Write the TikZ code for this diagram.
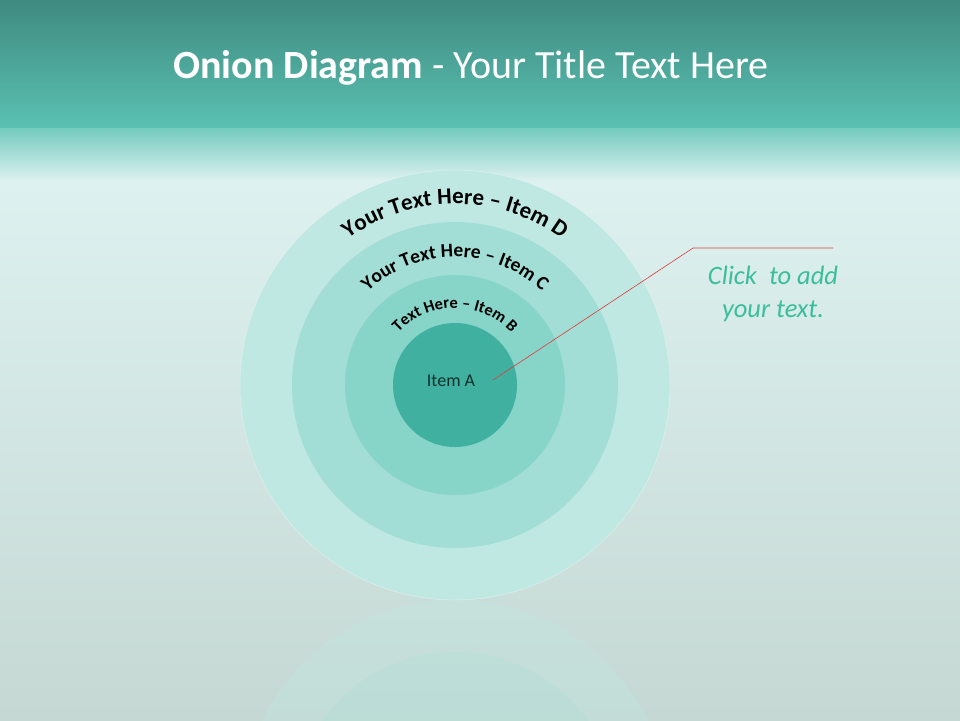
\documentclass[tikz,border=0pt]{standalone}
\usepackage{fontspec}
\setmainfont{Carlito}
\usepackage{tikz}
\usetikzlibrary{decorations.text}
\definecolor{bartop}{HTML}{3F8A80}
\definecolor{barbot}{HTML}{5AC1B2}
\definecolor{bgtop}{HTML}{DDF1F0}
\definecolor{bgbot}{HTML}{C5D8D3}
\definecolor{ringD}{HTML}{BFE8E3}
\definecolor{ringC}{HTML}{A2DED5}
\definecolor{ringB}{HTML}{87D4C9}
\definecolor{ringA}{HTML}{40B1A1}
\definecolor{notegreen}{HTML}{3BBE9C}
\definecolor{leadred}{HTML}{E03A3A}
\definecolor{inkdark}{HTML}{10302C}

\begin{document}
\begin{tikzpicture}[
  x=1pt, y=-1pt,
  ring/.style={draw=none},
  arctext/.style={decorate, decoration={text along path, text align=center,
                  raise=0pt, text={#1}}},
  lead/.style={draw=leadred, line width=0.6pt},
  note/.style={font=\fontsize{26.5}{33}\selectfont\itshape, text=notegreen,
               align=center, inner sep=0pt}]
\useasboundingbox (0,0) rectangle (960,720);
% background
\shade[top color=bgtop, bottom color=bgbot] (0,180) rectangle (960,720);
\shade[top color=bartop, bottom color=barbot] (0,0) rectangle (960,128);
\shade[top color=barbot!80!bgtop, bottom color=bgtop] (0,128) rectangle (960,181);
% reflection
\begin{scope}
  \clip (0,600) rectangle (960,720);
  \fill[ringD, opacity=0.3] (455,815) circle (215);
  \fill[ringC, opacity=0.2] (455,815) circle (163);
\end{scope}
% rings
\fill[ring, ringD] (455,385) circle (215);
\draw[white, opacity=0.4, line width=0.5pt] (455,385) circle (215);
\fill[ring, ringC] (455,385) circle (163);
\fill[ring, ringB] (455,385) circle (110);
\fill[ring, ringA] (455,385) circle (62);
% curved labels
\path[arctext={|\bfseries\fontsize{23}{23}\selectfont|Your Text Here – Item D}]
  (455,385) ++(-160:181) arc[start angle=-160, end angle=-20, radius=181];
\path[arctext={|\bfseries\fontsize{19.5}{19.5}\selectfont|Your Text Here – Item C}]
  (455,385) ++(-170:128) arc[start angle=-170, end angle=-10, radius=128];
\path[arctext={|\bfseries\fontsize{16.5}{16.5}\selectfont|Text Here – Item B}]
  (455,385) ++(-175:77) arc[start angle=-175, end angle=-5, radius=77];
\node[font=\fontsize{18}{18}\selectfont, text=inkdark] (itemA) at (451,381) {Item A};
% callout
\coordinate (pin) at (493,380);
\coordinate (bend) at (693,248);
\coordinate (tail) at (833,248);
\draw[lead] (pin) -- (bend) -- (tail);
\node[note] (callnote) at (773,294) {Click\ \ to add\\your text.};
% title
\node[text=white, font=\fontsize{40}{40}\selectfont] (title) at (471,68)
  {\textbf{Onion Diagram} - Your Title Text Here};
\end{tikzpicture}
\end{document}
